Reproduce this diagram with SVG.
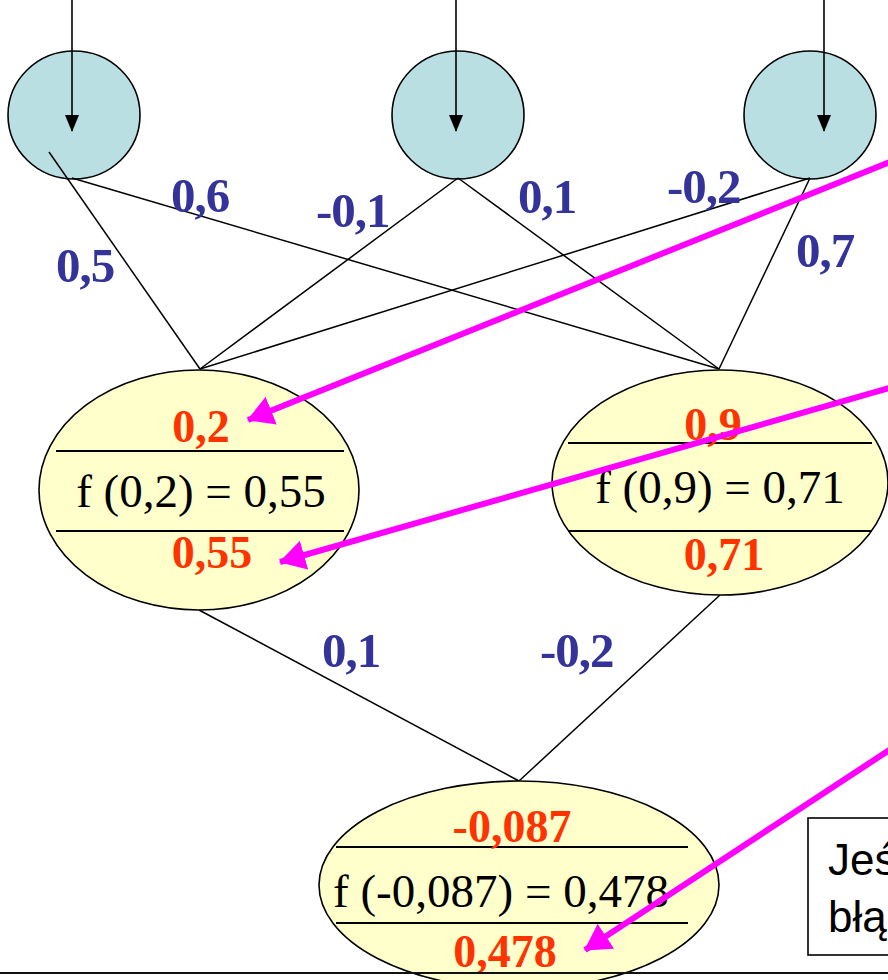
<svg xmlns="http://www.w3.org/2000/svg" width="888" height="980" viewBox="0 0 888 980">
<defs>
<marker id="ah" markerUnits="userSpaceOnUse" markerWidth="17" markerHeight="14" viewBox="0 0 17 14" refX="16" refY="7" orient="auto">
<path d="M0,0 L17,7 L0,14 Z" fill="#000"/>
</marker>
<marker id="mh" markerUnits="userSpaceOnUse" markerWidth="26" markerHeight="30" viewBox="0 0 26 30" refX="25" refY="15" orient="auto">
<path d="M0,0 L26,15 L0,30 Z" fill="#FF00FF"/>
</marker>
<style>
.in{fill:#B9DFE3;stroke:#000;stroke-width:1.6}
.hid{fill:#FFFFCC;stroke:#000;stroke-width:1.6}
.sep{stroke:#000;stroke-width:2}
.edge{stroke:#000;stroke-width:1.5;fill:none}
.w{font-family:"Liberation Serif","Times New Roman",serif;font-weight:bold;font-size:49px;letter-spacing:-1px;fill:#333399}
.r{font-family:"Liberation Serif","Times New Roman",serif;font-weight:bold;font-size:46px;fill:#FF3300;text-anchor:middle}
.f{font-family:"Liberation Serif","Times New Roman",serif;font-size:47px;fill:#000}
.mag{stroke:#FF00FF;stroke-width:6;fill:none}
.box{font-family:"Liberation Sans",Arial,sans-serif;font-size:44px;fill:#000}
</style>
</defs>

<g id="input1">
<ellipse class="in" cx="74" cy="115" rx="66" ry="64"/>
</g>
<g id="input2">
<ellipse class="in" cx="458" cy="115" rx="66" ry="64"/>
</g>
<g id="input3">
<ellipse class="in" cx="810" cy="115" rx="66" ry="64"/>
</g>

<g id="connectors">
<line class="edge" x1="49" y1="152" x2="200" y2="369"/>
<line class="edge" x1="72" y1="178" x2="719" y2="369"/>
<line class="edge" x1="458" y1="178" x2="200" y2="369"/>
<line class="edge" x1="458" y1="178" x2="719" y2="369"/>
<line class="edge" x1="810" y1="178" x2="200" y2="369"/>
<line class="edge" x1="810" y1="178" x2="719" y2="369"/>
<line class="edge" x1="199" y1="610" x2="519" y2="781"/>
<line class="edge" x1="720" y1="595" x2="519" y2="781"/>
<line x1="72" y1="0" x2="72" y2="131" stroke="#000" stroke-width="1.6" marker-end="url(#ah)"/>
<line x1="456" y1="0" x2="456" y2="131" stroke="#000" stroke-width="1.6" marker-end="url(#ah)"/>
<line x1="824" y1="0" x2="824" y2="131" stroke="#000" stroke-width="1.6" marker-end="url(#ah)"/>
</g>

<g id="weights">
<text class="w" x="171" y="212">0,6</text>
<text class="w" x="316" y="227">-0,1</text>
<text class="w" x="518" y="213">0,1</text>
<text class="w" x="667" y="203">-0,2</text>
<text class="w" x="56" y="282">0,5</text>
<text class="w" x="796" y="267">0,7</text>
<text class="w" x="322" y="667">0,1</text>
<text class="w" x="540" y="667">-0,2</text>
</g>

<g id="hidden1">
<ellipse class="hid" cx="199" cy="490" rx="160" ry="120"/>
<line class="sep" x1="56" y1="451" x2="344" y2="451"/>
<line class="sep" x1="56" y1="531" x2="344" y2="531"/>
<text class="r" x="201" y="442">0,2</text>
<text class="f" x="201" y="507" text-anchor="middle">f (0,2) = 0,55</text>
<text class="r" x="212" y="568">0,55</text>
</g>

<g id="hidden2">
<ellipse class="hid" cx="720" cy="482.5" rx="168" ry="112.5"/>
<line class="sep" x1="568" y1="443" x2="872" y2="443"/>
<line class="sep" x1="568" y1="531" x2="872" y2="531"/>
<text class="r" x="713" y="440">0,9</text>
<text class="f" x="720" y="503" text-anchor="middle">f (0,9) = 0,71</text>
<text class="r" x="724" y="570">0,71</text>
</g>

<g id="output">
<ellipse class="hid" cx="519" cy="885" rx="200" ry="104"/>
<line class="sep" x1="336" y1="847" x2="688" y2="847"/>
<line class="sep" x1="336" y1="923" x2="688" y2="923"/>
<text class="r" x="512" y="842">-0,087</text>
<text class="f" x="501" y="907" text-anchor="middle">f (-0,087) = 0,478</text>
<text class="r" x="505" y="967">0,478</text>
</g>

<g id="note">
<rect x="808" y="818" width="100" height="137" fill="#fff" stroke="#000" stroke-width="1.6"/>
<text class="box" x="828" y="875">Jeś</text>
<text class="box" x="828" y="932">błą</text>
</g>

<line x1="0" y1="973" x2="888" y2="973" stroke="#111" stroke-width="2"/>

<g id="pointers">
<line class="mag" x1="900" y1="158" x2="248" y2="420" marker-end="url(#mh)"/>
<line class="mag" x1="900" y1="385" x2="280" y2="562" marker-end="url(#mh)"/>
<line class="mag" x1="900" y1="743" x2="585" y2="950" marker-end="url(#mh)"/>
</g>
</svg>
